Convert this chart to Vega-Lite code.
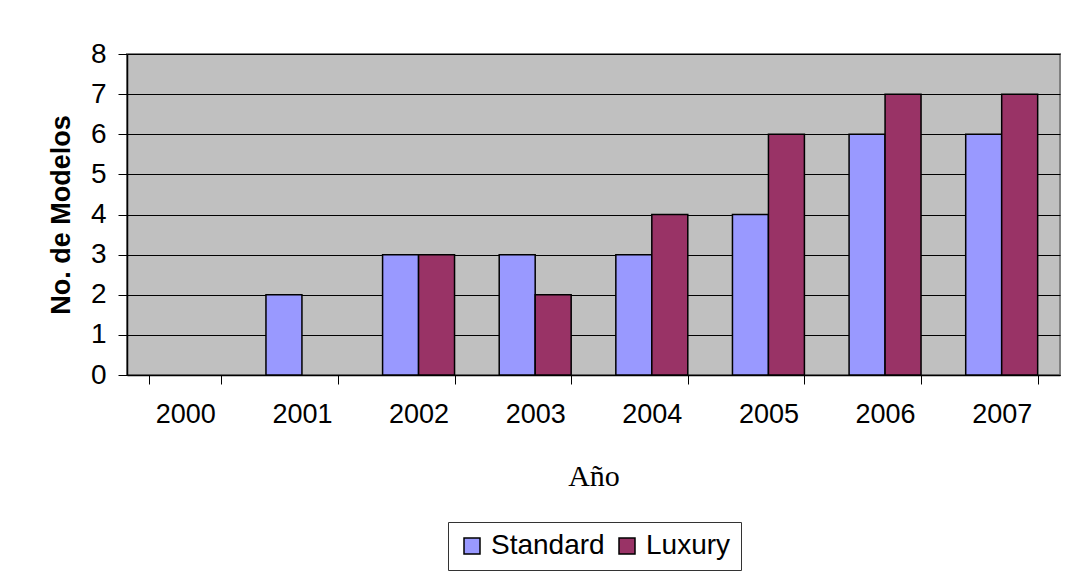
{
  "$schema": "https://vega.github.io/schema/vega-lite/v6.json",
  "width": 933,
  "height": 321,
  "autosize": {"type": "none"},
  "padding": {"left": 127, "top": 54, "right": 13, "bottom": 203},
  "background": "white",
  "config": {
    "view": {"fill": "#C0C0C0", "stroke": "#808080", "strokeWidth": 2},
    "font": "Liberation Sans"
  },
  "data": {
    "values": [
      {"year": "2001", "series": "Standard", "models": 2},
      {"year": "2002", "series": "Standard", "models": 3},
      {"year": "2002", "series": "Luxury", "models": 3},
      {"year": "2003", "series": "Standard", "models": 3},
      {"year": "2003", "series": "Luxury", "models": 2},
      {"year": "2004", "series": "Standard", "models": 3},
      {"year": "2004", "series": "Luxury", "models": 4},
      {"year": "2005", "series": "Standard", "models": 4},
      {"year": "2005", "series": "Luxury", "models": 6},
      {"year": "2006", "series": "Standard", "models": 6},
      {"year": "2006", "series": "Luxury", "models": 7},
      {"year": "2007", "series": "Standard", "models": 6},
      {"year": "2007", "series": "Luxury", "models": 7}
    ]
  },
  "mark": {"type": "bar", "stroke": "black", "strokeWidth": 1.5},
  "encoding": {
    "x": {
      "field": "year",
      "type": "nominal",
      "scale": {
        "domain": ["2000", "2001", "2002", "2003", "2004", "2005", "2006", "2007"],
        "paddingInner": 0.383,
        "paddingOuter": 0.1915
      },
      "axis": {
        "title": "Año",
        "titleFont": "Liberation Serif",
        "titleFontSize": 30,
        "titleFontWeight": "normal",
        "titleColor": "black",
        "titlePadding": 34,
        "labelAngle": 0,
        "labelFontSize": 27,
        "labelColor": "black",
        "labelPadding": 17,
        "tickBand": "extent",
        "tickSize": 9,
        "tickColor": "black",
        "domainColor": "black",
        "domainWidth": 1.5,
        "grid": false
      }
    },
    "xOffset": {
      "field": "series",
      "type": "nominal",
      "scale": {"domain": ["Standard", "Luxury"], "paddingInner": 0, "paddingOuter": 0}
    },
    "y": {
      "field": "models",
      "type": "quantitative",
      "scale": {"domain": [0, 8], "nice": false},
      "axis": {
        "title": "No. de Modelos",
        "titleFontSize": 27,
        "titleFontWeight": "bold",
        "titleColor": "black",
        "titlePadding": 15,
        "values": [0, 1, 2, 3, 4, 5, 6, 7, 8],
        "labelFontSize": 28,
        "labelColor": "black",
        "labelPadding": 12,
        "tickSize": 9,
        "tickColor": "black",
        "domainColor": "black",
        "domainWidth": 1.5,
        "grid": true,
        "gridColor": "black",
        "gridWidth": 1
      }
    },
    "color": {
      "field": "series",
      "type": "nominal",
      "scale": {"domain": ["Standard", "Luxury"], "range": ["#9999FF", "#993366"]},
      "legend": {
        "title": null,
        "orient": "none",
        "legendX": 321,
        "legendY": 468,
        "direction": "horizontal",
        "columns": 2,
        "fillColor": "white",
        "strokeColor": "#333333",
        "padding": 10,
        "symbolType": "square",
        "symbolSize": 256,
        "symbolStrokeColor": "black",
        "symbolStrokeWidth": 1.5,
        "symbolOpacity": 1,
        "labelFontSize": 28,
        "labelColor": "black",
        "labelOffset": 5,
        "columnPadding": 8
      }
    }
  }
}
